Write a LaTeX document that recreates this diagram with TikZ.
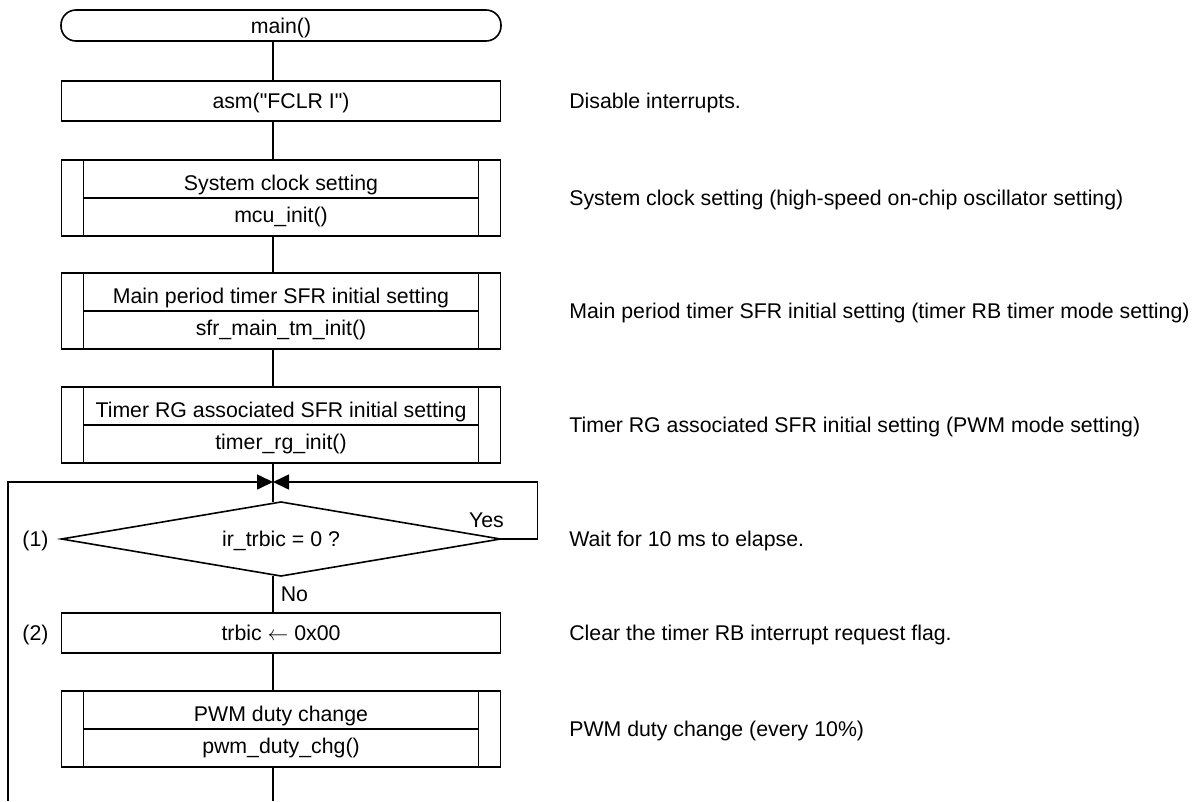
\documentclass[tikz,border=0pt]{standalone}
\usepackage{fontspec}
\setmainfont{Liberation Sans}[Ligatures=TeXOff]
\usetikzlibrary{positioning,arrows.meta,shapes.geometric}
\tikzset{%
every node/.append style={font=\fontsize{21.3}{25}\selectfont},
txt/.style={inner sep=0,text height=15.3pt,text depth=0pt},
terminal/.style={draw,rectangle,rounded corners=15pt,minimum width=440pt,minimum height=31pt,outer sep=0,txt},
process/.style={draw,rectangle,minimum width=439pt,minimum height=40pt,outer sep=0,txt},
subproc/.style={draw,rectangle,minimum width=439pt,minimum height=76pt,inner sep=0,outer sep=0,
  path picture={
    \draw ([xshift=22pt]path picture bounding box.north west) -- ([xshift=22pt]path picture bounding box.south west)
          ([xshift=-22pt]path picture bounding box.north east) -- ([xshift=-22pt]path picture bounding box.south east)
          ([xshift=22pt]path picture bounding box.west) -- ([xshift=-22pt]path picture bounding box.east);
  }},
decision/.style={draw,diamond,aspect=5.9,minimum width=439pt,minimum height=74pt,outer sep=0,txt},
note/.style={txt,anchor=west},
flowarrow/.style={-{Triangle[length=16pt,width=15pt]}}
}
\begin{document}
\begin{tikzpicture}[x=1pt,y=-1pt,line width=1.6pt]
    \useasboundingbox (0,0) rectangle (1197,801);

    \coordinate (spine) at (273,0);

    \node[terminal] (main) at (281,25.5) {main()};
    \node[process] (asm) [below=40pt of main] {asm("FCLR I")};
    \node[subproc] (sys) [below=39pt of asm] {};
    \node[subproc] (mtm) [below=37pt of sys] {};
    \node[subproc] (trg) [below=38pt of mtm] {};
    \node[decision] (chk) [below=39pt of trg] {ir\_trbic = 0 ?};
    \node[process] (clr) [below=37pt of chk] {trbic $\leftarrow$ 0x00};
    \node[subproc] (pwm) [below=38pt of clr] {};

    % texts of the subroutine boxes
    \node[txt] (sys-t) at ([yshift=15pt]sys.center) {System clock setting};
    \node[txt] (sys-f) at ([yshift=-17pt]sys.center) {mcu\_init()};
    \node[txt] (mtm-t) at ([yshift=15pt]mtm.center) {Main period timer SFR initial setting};
    \node[txt] (mtm-f) at ([yshift=-17pt]mtm.center) {sfr\_main\_tm\_init()};
    \node[txt] (trg-t) at ([yshift=15pt]trg.center) {Timer RG associated SFR initial setting};
    \node[txt] (trg-f) at ([yshift=-17pt]trg.center) {timer\_rg\_init()};
    \node[txt] (pwm-t) at ([yshift=15pt]pwm.center) {PWM duty change};
    \node[txt] (pwm-f) at ([yshift=-17pt]pwm.center) {pwm\_duty\_chg()};

    \node[txt] (yes) at ([xshift=-14pt,yshift=19pt]chk.east) {Yes};
    \node[txt,anchor=west] (no) at ([xshift=7pt,yshift=-18pt]chk.south -| spine) {No};
    \node[txt] (n1) at ([xshift=-26pt]chk.west) {(1)};
    \node[txt] (n2) at ([xshift=-26pt]clr.west) {(2)};

    % comments
    \node[note] (asm-n) [right=68pt of asm] {Disable interrupts.};
    \node[note] (sys-n) [right=68pt of sys] {System clock setting (high-speed on-chip oscillator setting)};
    \node[note] (mtm-n) [right=68pt of mtm] {Main period timer SFR initial setting (timer RB timer mode setting)};
    \node[note] (trg-n) [right=68pt of trg] {Timer RG associated SFR initial setting (PWM mode setting)};
    \node[note] (chk-n) [right=68pt of chk] {Wait for 10 ms to elapse.};
    \node[note] (clr-n) [right=68pt of clr] {Clear the timer RB interrupt request flag.};
    \node[note] (pwm-n) [right=68pt of pwm] {PWM duty change (every 10\%)};

    \coordinate (merge) at ([yshift=20pt]chk.north -| spine);
    \coordinate (loop) at (8,801);

    \draw (main.south -| spine) -- (asm.north -| spine);
    \draw (asm.south -| spine) -- (sys.north -| spine);
    \draw (sys.south -| spine) -- (mtm.north -| spine);
    \draw (mtm.south -| spine) -- (trg.north -| spine);
    \draw (trg.south -| spine) -- (chk.north -| spine);
    \draw (chk.south -| spine) -- (clr.north -| spine);
    \draw (clr.south -| spine) -- (pwm.north -| spine);
    \draw (pwm.south -| spine) -- (spine |- loop);

    \draw[flowarrow] (loop) |- (merge);
    \draw[flowarrow] (chk.east) -- ++(37,0) |- (merge);
  \end{tikzpicture}
\end{document}
